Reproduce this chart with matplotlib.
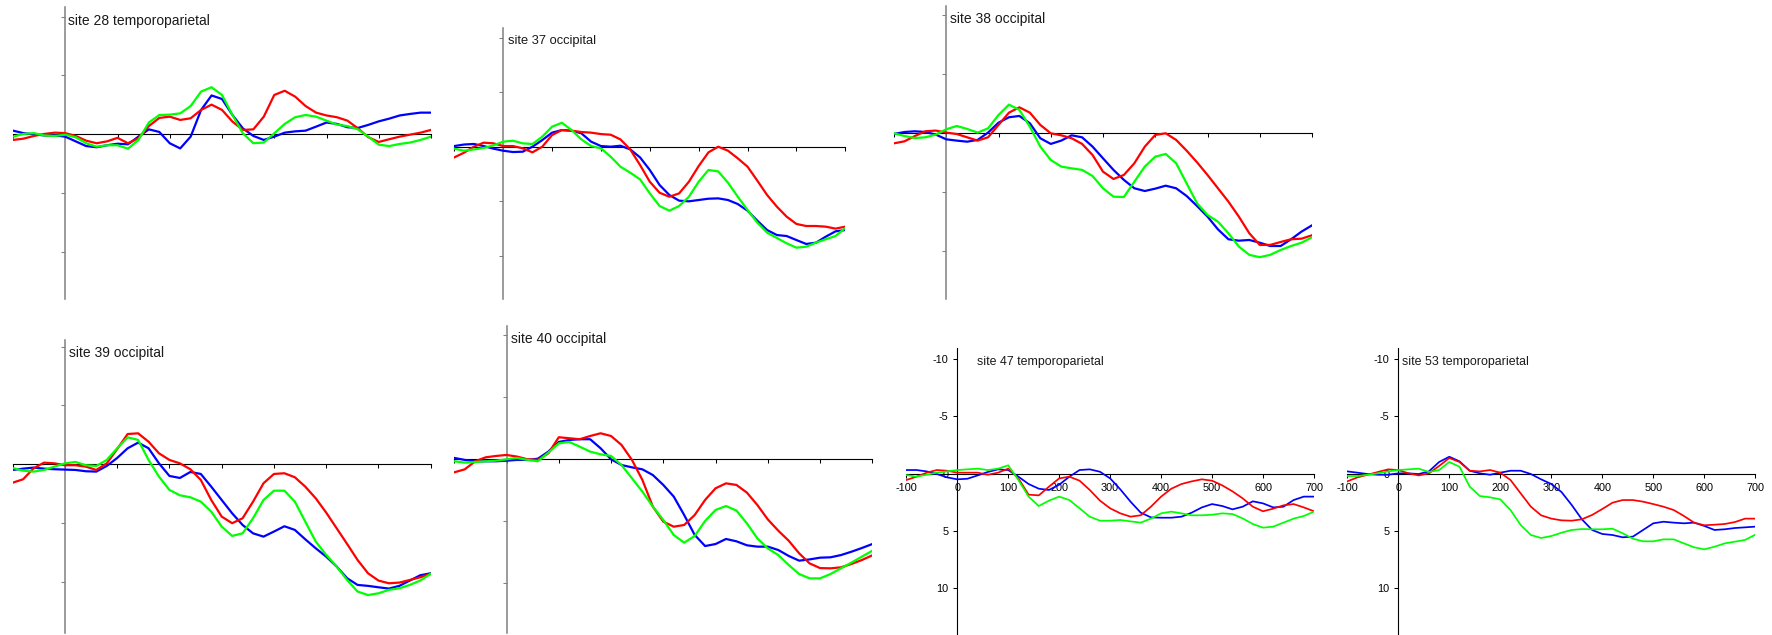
import numpy as np
import matplotlib
matplotlib.use("Agg")
import matplotlib.pyplot as plt

plt.rcParams['font.family'] = ['Liberation Sans', 'DejaVu Sans']
plt.rcParams['axes.unicode_minus'] = False

# time axis (ms), one sample every 20 ms
times = np.arange(-100, 701, 20)

# ERP amplitudes (uV) per site, one list per condition
site28_blue = [-0.31, -0.1, 0, 0.1, 0.1, 0.2, 0.6, 1.0, 1.1, 0.93,
               0.8, 0.85, 0.2, -0.42, -0.2, 0.76, 1.2, 0.2, -2.07, -3.3,
               -3.0, -1.64, -0.5, 0.14, 0.48, 0.2, -0.14, -0.25, -0.31, -0.65,
               -1.0, -0.88, -0.6, -0.54, -0.8, -1.1, -1.33, -1.6, -1.73, -1.84,
               -1.84]
site28_red = [0.48, 0.37, 0.14, -0.03, -0.14, -0.1, 0.14, 0.54, 0.76, 0.6,
              0.3, 0.76, 0.34, -0.7, -1.39, -1.5, -1.22, -1.36, -2.07, -2.52,
              -2.07, -1.08, -0.37, -0.42, -1.5, -3.34, -3.7, -3.2, -2.4, -1.84,
              -1.6, -1.45, -1.16, -0.51, 0.25, 0.65, 0.42, 0.2, 0.03, -0.14,
              -0.37]
site28_green = [0.2, -0.03, -0.1, 0.1, 0.14, 0.03, 0.25, 0.76, 1.05, 0.93,
                0.93, 1.22, 0.48, -1.0, -1.64, -1.67, -1.78, -2.4, -3.63, -4.0,
                -3.34, -1.64, -0.08, 0.76, 0.7, -0.08, -0.88, -1.45, -1.64, -1.5,
                -1.16, -0.82, -0.7, -0.42, 0.2, 0.88, 1.0, 0.82, 0.7, 0.48,
                0.2]

site37_blue = [-0.06, -0.2, -0.25, -0.06, 0.18, 0.37, 0.49, 0.46, 0, -0.61,
               -1.29, -1.53, -1.47, -1.23, -0.46, -0.06, 0, -0.09, 0.25, 0.98,
               2.14, 3.52, 4.44, 4.96, 5.02, 4.9, 4.78, 4.75, 4.9, 5.27,
               5.88, 6.8, 7.66, 8.12, 8.21, 8.58, 8.94, 8.82, 8.27, 7.78,
               7.66]
site37_red = [0.98, 0.55, 0, -0.37, -0.31, -0.06, -0.06, 0.15, 0.52, 0,
              -1.07, -1.53, -1.47, -1.35, -1.29, -1.16, -1.1, -0.67, 0.25, 1.68,
              3.22, 4.23, 4.6, 4.29, 3.22, 1.78, 0.52, 0, 0.37, 1.07,
              1.84, 3.12, 4.44, 5.51, 6.43, 7.1, 7.29, 7.29, 7.35, 7.53,
              7.35]
site37_green = [0.18, 0.37, 0.25, 0.12, -0.12, -0.46, -0.55, -0.31, -0.25, -0.92,
                -1.84, -2.2, -1.53, -0.67, -0.06, 0.15, 0.92, 1.84, 2.39, 3.0,
                4.29, 5.45, 5.88, 5.45, 4.6, 3.22, 2.14, 2.27, 3.31, 4.6,
                5.82, 6.98, 7.9, 8.39, 8.88, 9.28, 9.19, 8.82, 8.51, 8.21,
                7.47]

site38_blue = [0.06, -0.11, -0.17, -0.11, 0.11, 0.51, 0.62, 0.71, 0.56, -0.06,
               -0.9, -1.36, -1.47, -0.85, 0.42, 0.9, 0.62, 0.17, 0.34, 1.13,
               2.12, 3.1, 3.95, 4.66, 4.89, 4.69, 4.44, 4.66, 5.31, 6.16,
               7.06, 8.14, 8.98, 9.1, 9.04, 9.27, 9.55, 9.55, 8.98, 8.33,
               7.8]
site38_red = [0.85, 0.68, 0.23, -0.17, -0.23, -0.06, 0.06, 0.34, 0.62, 0.34,
              -0.71, -1.75, -2.2, -1.75, -0.71, 0, 0.17, 0.42, 0.9, 1.84,
              3.25, 3.87, 3.53, 2.54, 1.13, 0.14, 0, 0.56, 1.47, 2.46,
              3.53, 4.66, 5.79, 7.06, 8.47, 9.46, 9.46, 9.21, 8.98, 8.93,
              8.64]
site38_green = [0, 0.23, 0.4, 0.34, 0.11, -0.34, -0.62, -0.37, -0.06, -0.42,
                -1.55, -2.43, -1.98, -0.56, 1.13, 2.26, 2.82, 2.97, 3.1, 3.62,
                4.66, 5.37, 5.4, 4.1, 2.82, 1.98, 1.75, 2.54, 4.24, 5.93,
                6.92, 7.49, 8.47, 9.6, 10.3, 10.5, 10.3, 9.89, 9.55, 9.27,
                8.81]

site39_blue = [0.48, 0.37, 0.28, 0.37, 0.42, 0.45, 0.48, 0.59, 0.62, 0.14,
               -0.54, -1.36, -1.84, -1.36, -0.08, 0.99, 1.16, 0.65, 0.82, 1.9,
               3.03, 4.16, 5.15, 5.86, 6.14, 5.71, 5.26, 5.57, 6.37, 7.13,
               7.84, 8.68, 9.67, 10.24, 10.32, 10.44, 10.55, 10.32, 9.87, 9.42,
               9.25]
site39_red = [1.56, 1.27, 0.34, -0.14, -0.08, 0.08, 0.08, 0.2, 0.48, -0.08,
              -1.3, -2.57, -2.63, -1.92, -0.93, -0.37, -0.08, 0.42, 1.33, 3.03,
              4.44, 5.0, 4.58, 3.17, 1.61, 0.82, 0.76, 1.1, 1.9, 2.89,
              4.1, 5.43, 6.76, 8.12, 9.25, 9.87, 10.1, 10.04, 9.82, 9.59,
              9.3]
site39_green = [0.31, 0.54, 0.62, 0.48, 0.2, -0.08, -0.2, 0.08, 0.14, -0.37,
                -1.36, -2.29, -2.07, -0.37, 1.05, 2.18, 2.63, 2.8, 3.17, 4.02,
                5.29, 6.08, 5.86, 4.58, 3.03, 2.24, 2.24, 3.17, 4.87, 6.56,
                7.69, 8.68, 9.82, 10.8, 11.1, 10.95, 10.66, 10.52, 10.24, 9.87,
                9.3]

site40_blue = [-0.11, 0.05, 0.16, 0.16, 0.16, 0.11, 0.05, 0.05, -0.05, -0.62,
               -1.4, -1.56, -1.62, -1.62, -0.89, 0, 0.46, 0.65, 0.81, 1.27,
               2.07, 3.01, 4.5, 6.1, 7.0, 6.84, 6.43, 6.62, 6.94, 7.05,
               7.05, 7.32, 7.8, 8.18, 8.08, 7.94, 7.91, 7.73, 7.46, 7.16,
               6.84]
site40_red = [1.05, 0.81, 0.16, -0.16, -0.27, -0.35, -0.22, 0, 0.05, -0.48,
              -1.78, -1.7, -1.62, -1.88, -2.1, -1.88, -1.16, 0.05, 1.67, 3.82,
              5.03, 5.44, 5.3, 4.5, 3.28, 2.34, 1.94, 2.07, 2.69, 3.69,
              4.85, 5.76, 6.57, 7.59, 8.4, 8.78, 8.8, 8.72, 8.45, 8.13,
              7.75]
site40_green = [0.16, 0.27, 0.22, 0.16, 0.11, 0, -0.11, 0.05, 0.16, -0.54,
                -1.29, -1.4, -1.02, -0.62, -0.4, -0.27, 0.46, 1.53, 2.61, 3.82,
                4.9, 6.11, 6.73, 6.19, 4.98, 4.09, 3.77, 4.14, 5.17, 6.38,
                7.19, 7.73, 8.53, 9.26, 9.61, 9.61, 9.26, 8.8, 8.34, 7.86,
                7.38]

site47_blue = [-0.32, -0.32, -0.2, 0.03, 0.32, 0.49, 0.44, 0.15, -0.15, -0.38,
               -0.32, 0.26, 0.9, 1.31, 1.42, 0.96, 0.26, -0.32, -0.38, -0.17,
               0.41, 1.37, 2.44, 3.4, 3.81, 3.84, 3.84, 3.75, 3.4, 2.94,
               2.65, 2.82, 3.11, 2.88, 2.41, 2.59, 2.94, 2.88, 2.3, 2.0,
               2.0]
site47_red = [0.55, 0.26, -0.09, -0.32, -0.26, -0.09, -0.09, -0.09, 0.09, -0.09,
              -0.44, 0.41, 1.83, 1.89, 1.13, 0.41, 0.26, 0.61, 1.42, 2.35,
              3.02, 3.46, 3.75, 3.63, 2.88, 2.0, 1.31, 0.9, 0.67, 0.49,
              0.61, 1.02, 1.54, 2.15, 2.88, 3.28, 3.05, 2.76, 2.65, 2.94,
              3.28]
site47_green = [0.12, 0.26, 0.09, -0.09, -0.2, -0.32, -0.38, -0.44, -0.32, -0.44,
                -0.73, 0.55, 2.0, 2.82, 2.35, 2.0, 2.3, 3.02, 3.75, 4.1,
                4.1, 4.04, 4.16, 4.27, 3.92, 3.46, 3.31, 3.46, 3.63, 3.63,
                3.58, 3.46, 3.52, 3.9, 4.39, 4.71, 4.62, 4.27, 3.92, 3.69,
                3.31]

site53_blue = [-0.2, -0.09, 0.03, 0.09, 0.09, -0.03, -0.03, 0.03, -0.2, -1.02,
               -1.48, -1.08, -0.26, -0.03, 0.09, -0.09, -0.26, -0.26, 0.03, 0.49,
               0.9, 1.6, 2.73, 3.98, 4.91, 5.26, 5.35, 5.55, 5.49, 4.91,
               4.33, 4.19, 4.27, 4.33, 4.27, 4.56, 4.91, 4.85, 4.74, 4.68,
               4.62]
site53_red = [0.67, 0.32, 0.09, -0.15, -0.38, -0.32, -0.03, 0.15, -0.03, -0.67,
              -1.37, -1.02, -0.26, -0.2, -0.32, -0.09, 0.55, 1.72, 2.88, 3.63,
              3.92, 4.07, 4.1, 3.98, 3.6, 3.08, 2.53, 2.3, 2.3, 2.44,
              2.65, 2.88, 3.17, 3.69, 4.27, 4.5, 4.45, 4.39, 4.22, 3.92,
              3.92]
site53_green = [0.2, 0.2, 0.09, -0.03, -0.2, -0.32, -0.38, -0.44, -0.15, -0.32,
                -1.02, -0.61, 1.13, 1.95, 2.06, 2.24, 3.17, 4.48, 5.35, 5.61,
                5.44, 5.15, 4.91, 4.83, 4.85, 4.85, 4.8, 5.2, 5.67, 5.9,
                5.9, 5.73, 5.73, 6.08, 6.42, 6.6, 6.37, 6.08, 5.93, 5.78,
                5.32]

titles = ["site 28 temporoparietal", "site 37 occipital", "site 38 occipital",
          "site 39 occipital", "site 40 occipital", "site 47 temporoparietal",
          "site 53 temporoparietal"]
blues = [site28_blue, site37_blue, site38_blue, site39_blue, site40_blue, site47_blue, site53_blue]
reds = [site28_red, site37_red, site38_red, site39_red, site40_red, site47_red, site53_red]
greens = [site28_green, site37_green, site38_green, site39_green, site40_green, site47_green, site53_green]

xticks = [-100, 0, 100, 200, 300, 400, 500, 600, 700]
yticks = [-10, -5, 0, 5, 10]

# panel placement in pixels: x at -100 ms, x at 700 ms, y of 0 uV, px per uV, top, bottom
W, H = 1772, 635
layout = [
    (13, 431, 134.3, 11.77, 7, 299),
    (454.3, 845.3, 146.7, 10.88, 28, 299),
    (894, 1312, 133.3, 11.8, 6, 299),
    (12.7, 430.7, 464.3, 11.78, 340, 633),
    (454.3, 872.3, 459.3, 12.39, 326, 633),
    (906.3, 1314, 473.7, 11.46, 348, 634),
    (1347.3, 1755.3, 473.7, 11.46, 348, 634),
]
# title position (left px, centre px, font size), and whether tick labels are shown
title_pos = [(67.5, 20.7, 10), (507.5, 40.7, 9.3), (950, 19.3, 10),
             (69, 353.3, 10), (511, 339.3, 10), (976.5, 361.7, 8.9), (1401.5, 361.7, 8.9)]
labelled = [False, False, False, False, False, True, True]

fig = plt.figure(figsize=(W / 100, H / 100), dpi=100)

for i in range(len(titles)):
    xl, xr, y0, ppu, yt, yb = layout[i]
    ax = fig.add_axes([xl / W, 1 - yb / H, (xr - xl) / W, (yb - yt) / H])
    ax.patch.set_visible(False)

    lw = 1.25 if labelled[i] else 1.6
    ax.plot(times, blues[i], color='#0000ff', lw=lw, zorder=3, solid_joinstyle='round')
    ax.plot(times, reds[i], color='#ff0000', lw=lw, zorder=3, solid_joinstyle='round')
    ax.plot(times, greens[i], color='#00ff00', lw=lw, zorder=3, solid_joinstyle='round')

    ax.set_xlim(-100, 700)
    ax.set_ylim((yb - y0) / ppu, (yt - y0) / ppu)

    for side in ['top', 'right']:
        ax.spines[side].set_visible(False)
    ax.spines['left'].set_position(('data', 0))
    ax.spines['bottom'].set_position(('data', 0))

    ycol = 'black' if labelled[i] else '#808080'
    ax.spines['left'].set_color(ycol)
    ax.spines['left'].set_linewidth(0.8 if labelled[i] else 1.1)
    ax.spines['bottom'].set_color('black')
    ax.spines['bottom'].set_linewidth(0.8)

    ax.set_xticks(xticks)
    ax.set_yticks(yticks)
    ax.tick_params(axis='x', direction='out', length=3, width=0.75, color='black',
                   labelsize=7.8, pad=4, labelbottom=labelled[i])
    ax.tick_params(axis='y', direction='out', length=3, width=0.75, color=ycol,
                   labelsize=7.8, pad=3.5, labelleft=labelled[i])

    tx, ty, fs = title_pos[i]
    fig.text(tx / W, 1 - ty / H, titles[i], fontsize=fs, ha='left', va='center', color='#1a1a1a')

fig.savefig('out.png', dpi=100)
